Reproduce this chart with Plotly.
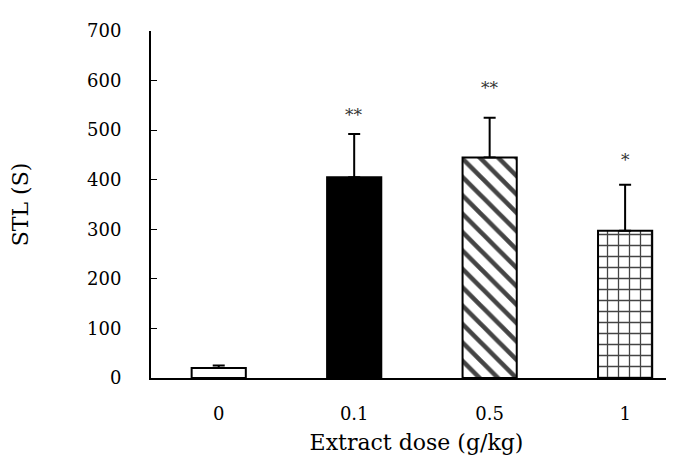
import plotly.graph_objects as go

# data
doses = ["0", "0.1", "0.5", "1"]
stl_mean = [20, 405, 445, 297]
stl_err = [5, 87, 80, 93]
stars = ["", "**", "**", "*"]
star_y = [0, 530, 585, 440]

fill_colors = ["white", "black", "white", "white"]
pattern_shapes = ["", "", "\\", "+"]
pattern_sizes = [8, 8, 13, 11]
pattern_solid = [0.3, 0.3, 0.35, 0.22]

fig = go.Figure(go.Bar(
    x=doses,
    y=stl_mean,
    width=0.4,
    marker=dict(
        color=fill_colors,
        line=dict(color="black", width=2),
        pattern=dict(shape=pattern_shapes, fgcolor="black", fgopacity=1,
                     size=pattern_sizes, solidity=pattern_solid,
                     fillmode="overlay"),
    ),
    error_y=dict(type="data", symmetric=False, array=stl_err,
                 arrayminus=[0] * len(stl_err),
                 color="black", thickness=2, width=6),
    showlegend=False,
))

# significance marks above the error bars
for i, (s, yy) in enumerate(zip(stars, star_y)):
    if s:
        fig.add_annotation(x=i, y=yy, text=s, showarrow=False,
                           font=dict(size=17, color="#333"))

font = "DejaVu Serif"
fig.update_layout(
    width=674, height=475,
    margin=dict(l=143, r=0, t=23, b=105),
    plot_bgcolor="white", paper_bgcolor="white",
    font=dict(family=font, size=18, color="black"),
    xaxis=dict(
        type="category",
        range=[-0.5, 3.42],
        showline=True, linecolor="black", linewidth=2,
        ticks="", showgrid=False,
        title=dict(text="Extract dose (g/kg)", standoff=12),
        ticklabelstandoff=18,
    ),
    yaxis=dict(
        range=[0, 700], dtick=100,
        showline=True, linecolor="black", linewidth=2,
        ticks="inside", ticklen=6, tickcolor="black", tickwidth=1,
        showgrid=False, zeroline=False,
        ticklabelstandoff=24,
        title=dict(text="STL (S)", standoff=60),
    ),
)

fig.write_html("out.html")
